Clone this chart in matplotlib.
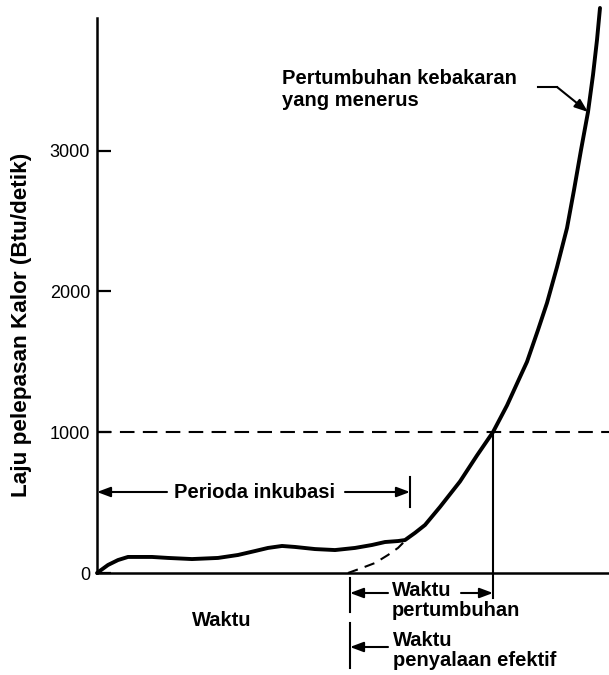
import matplotlib
matplotlib.use("Agg")
import matplotlib.pyplot as plt

plt.rcParams['font.family'] = ['Liberation Sans', 'DejaVu Sans']

# heat release curve (time in arbitrary units, Btu/detik)
waktu = [0, 11, 21, 31, 41, 55, 71, 95, 121, 141, 158, 171, 185, 198, 218, 238,
         258, 275, 288, 301, 308, 318, 328, 343, 363, 380, 396, 410, 423, 430,
         441, 450, 460, 470, 477, 484, 491, 496, 500, 503]
laju = [0, 57, 92, 114, 114, 114, 107, 99, 107, 128, 156, 178, 192, 185, 170, 163,
        178, 199, 220, 227, 234, 285, 341, 469, 650, 835, 1001, 1190, 1392, 1500,
        1726, 1918, 2173, 2450, 2720, 3004, 3274, 3537, 3786, 4013]

# extrapolated growth curve (dashed)
waktu_ekstra = [251, 265, 278, 291, 301, 311]
laju_ekstra = [0, 36, 71, 128, 178, 249]

batas = 1000
yticks = [0, 1000, 2000, 3000]

t_inkubasi = 313      # end of incubation period
t_penyalaan = 253     # effective ignition time
t_batas = 396         # time curve reaches 1000

PX = 0.1408  # pixels per Btu/detik


def px(x, y):
    """pixel position in the picture -> data coords"""
    return x - 97, (573 - y) / PX


fig = plt.figure(figsize=(6.09, 6.75), dpi=100)
ax = fig.add_axes([97 / 609, 102 / 675, 512 / 609, 555 / 675])
ax.set_xlim(0, 512)
ax.set_ylim(0, 555 / PX)

for s in ['top', 'right']:
    ax.spines[s].set_visible(False)
for s in ['left', 'bottom']:
    ax.spines[s].set_linewidth(1.8)

ax.set_xticks([])
ax.set_yticks(yticks)
ax.set_yticklabels([str(v) for v in yticks], fontsize=13)
ax.tick_params(axis='y', direction='in', length=10, width=1.6, pad=5)

ax.plot(waktu, laju, color='black', lw=2.8, clip_on=False,
        solid_capstyle='round', solid_joinstyle='round')
ax.plot(waktu_ekstra, laju_ekstra, color='black', lw=1.5, dashes=(5, 3.5))
ax.axhline(batas, color='black', lw=1.5, dashes=(7, 4))

fs = 14.5
bold = dict(fontsize=fs, fontweight='bold', color='black')


def arrow(tail, tip):
    ax.annotate('', xy=tip, xytext=tail, annotation_clip=False,
                arrowprops=dict(arrowstyle='-|>,head_length=0.8,head_width=0.3',
                                lw=1.5, color='black', shrinkA=0, shrinkB=0))


def vline(x, y0, y1):
    ax.plot([x, x], [y0, y1], color='black', lw=1.5, clip_on=False)


# incubation period
y_ink = px(0, 492)[1]
arrow((px(167, 0)[0], y_ink), (0, y_ink))
arrow((px(345, 0)[0], y_ink), (t_inkubasi, y_ink))
vline(t_inkubasi, px(0, 477)[1], px(0, 507)[1])
ax.text(px(255, 0)[0], y_ink, 'Perioda inkubasi', ha='center', va='center', **bold)

# growth time
vline(t_batas, batas, px(0, 598)[1])
vline(t_penyalaan, px(0, 578)[1], px(0, 612)[1])
vline(t_penyalaan, px(0, 623)[1], px(0, 668)[1])
y_a = px(0, 593)[1]
arrow((px(388, 0)[0], y_a), (t_penyalaan, y_a))
arrow((px(461, 0)[0], y_a), (t_batas, y_a))
ax.text(*px(392, 591), 'Waktu', ha='left', va='center', clip_on=False, **bold)
ax.text(*px(392, 610), 'pertumbuhan', ha='left', va='center', clip_on=False, **bold)

# effective ignition time
y_b = px(0, 647)[1]
arrow((px(388, 0)[0], y_b), (t_penyalaan, y_b))
ax.text(*px(393, 641), 'Waktu', ha='left', va='center', clip_on=False, **bold)
ax.text(*px(393, 661), 'penyalaan efektif', ha='left', va='center', clip_on=False, **bold)

# x label
ax.text(*px(222, 620), 'Waktu', ha='center', va='center', clip_on=False, **bold)

# continued fire growth
ax.text(*px(282, 79), 'Pertumbuhan kebakaran', ha='left', va='center', **bold)
ax.text(*px(282, 101), 'yang menerus', ha='left', va='center', **bold)
ax.plot([px(538, 87)[0], px(557, 87)[0]], [px(538, 87)[1], px(557, 87)[1]],
        color='black', lw=1.5)
arrow(px(557, 87), px(588, 112))

fig.text(22 / 609, 1 - 325 / 675, 'Laju pelepasan Kalor (Btu/detik)', rotation=90,
         ha='center', va='center', fontsize=16.2, fontweight='bold')

fig.savefig('out.png', dpi=100)
